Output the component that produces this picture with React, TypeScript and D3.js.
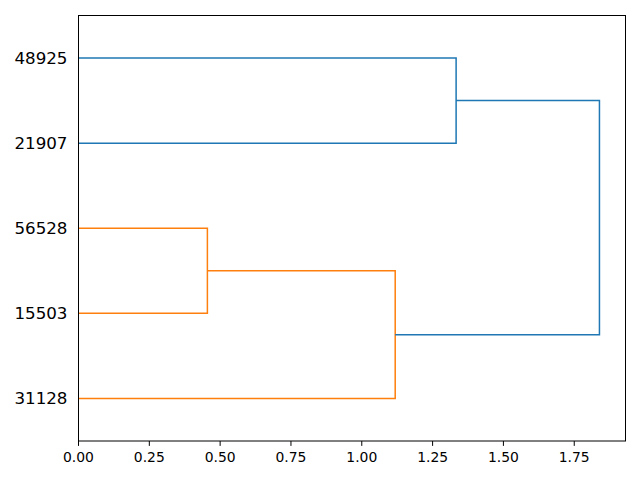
import React from "react";
import * as d3 from "d3";

const leafLabels = ["31128", "15503", "56528", "21907", "48925"];
// links: [y-coords (leaf units), x-coords (distance)], color
const linkIcoord = [
  [15, 15, 25, 25],
  [5, 5, 20, 20],
  [35, 35, 45, 45],
  [12.5, 12.5, 40, 40],
];
const linkDcoord = [
  [0, 0.455, 0.455, 0],
  [0, 1.118, 1.118, 0.455],
  [0, 1.333, 1.333, 0],
  [1.118, 1.839, 1.839, 1.333],
];
const linkColors = ["#ff7f0e", "#ff7f0e", "#1f77b4", "#1f77b4"];
const xTicks = [0, 0.25, 0.5, 0.75, 1.0, 1.25, 1.5, 1.75];

export default function App() {
  const W = 640, H = 480;
  const left = 78.5, right = 625.5, top = 15.5, bottom = 441;
  const maxD = d3.max(linkDcoord.flat()) as number;
  const x = d3.scaleLinear().domain([0, maxD * 1.05]).range([left, right]);
  const y = d3.scaleLinear().domain([0, leafLabels.length * 10]).range([bottom, top]);
  const line = d3.line<[number, number]>().x((d) => x(d[0])).y((d) => y(d[1]));
  const font = "'DejaVu Sans', sans-serif";
  return (
    <svg width={W} height={H} style={{ position: "absolute", left: 0, top: 0, background: "#fff" }}>
      <rect x={0} y={0} width={W} height={H} fill="#fff" />
      {linkIcoord.map((ic, i) => {
        const pts: [number, number][] = ic.map((v, j) => [linkDcoord[i][j], v]);
        return <path key={i} d={line(pts) as string} fill="none" stroke={linkColors[i]} strokeWidth={1.5} />;
      })}
      <rect x={left} y={top} width={right - left} height={bottom - top} fill="none" stroke="#000" strokeWidth={1} />
      {leafLabels.map((l, i) => (
        <text key={l} x={left - 11} y={y(5 + i * 10)} dy="0.36em" textAnchor="end" fontSize={16.7} fontFamily={font} fill="#000">
          {l}
        </text>
      ))}
      {xTicks.map((t) => (
        <g key={t}>
          <line x1={x(t)} x2={x(t)} y1={bottom} y2={bottom + 4.9} stroke="#000" strokeWidth={1} />
          <text x={x(t)} y={bottom + 21} textAnchor="middle" fontSize={13.9} fontFamily={font} fill="#000">
            {t.toFixed(2)}
          </text>
        </g>
      ))}
    </svg>
  );
}
